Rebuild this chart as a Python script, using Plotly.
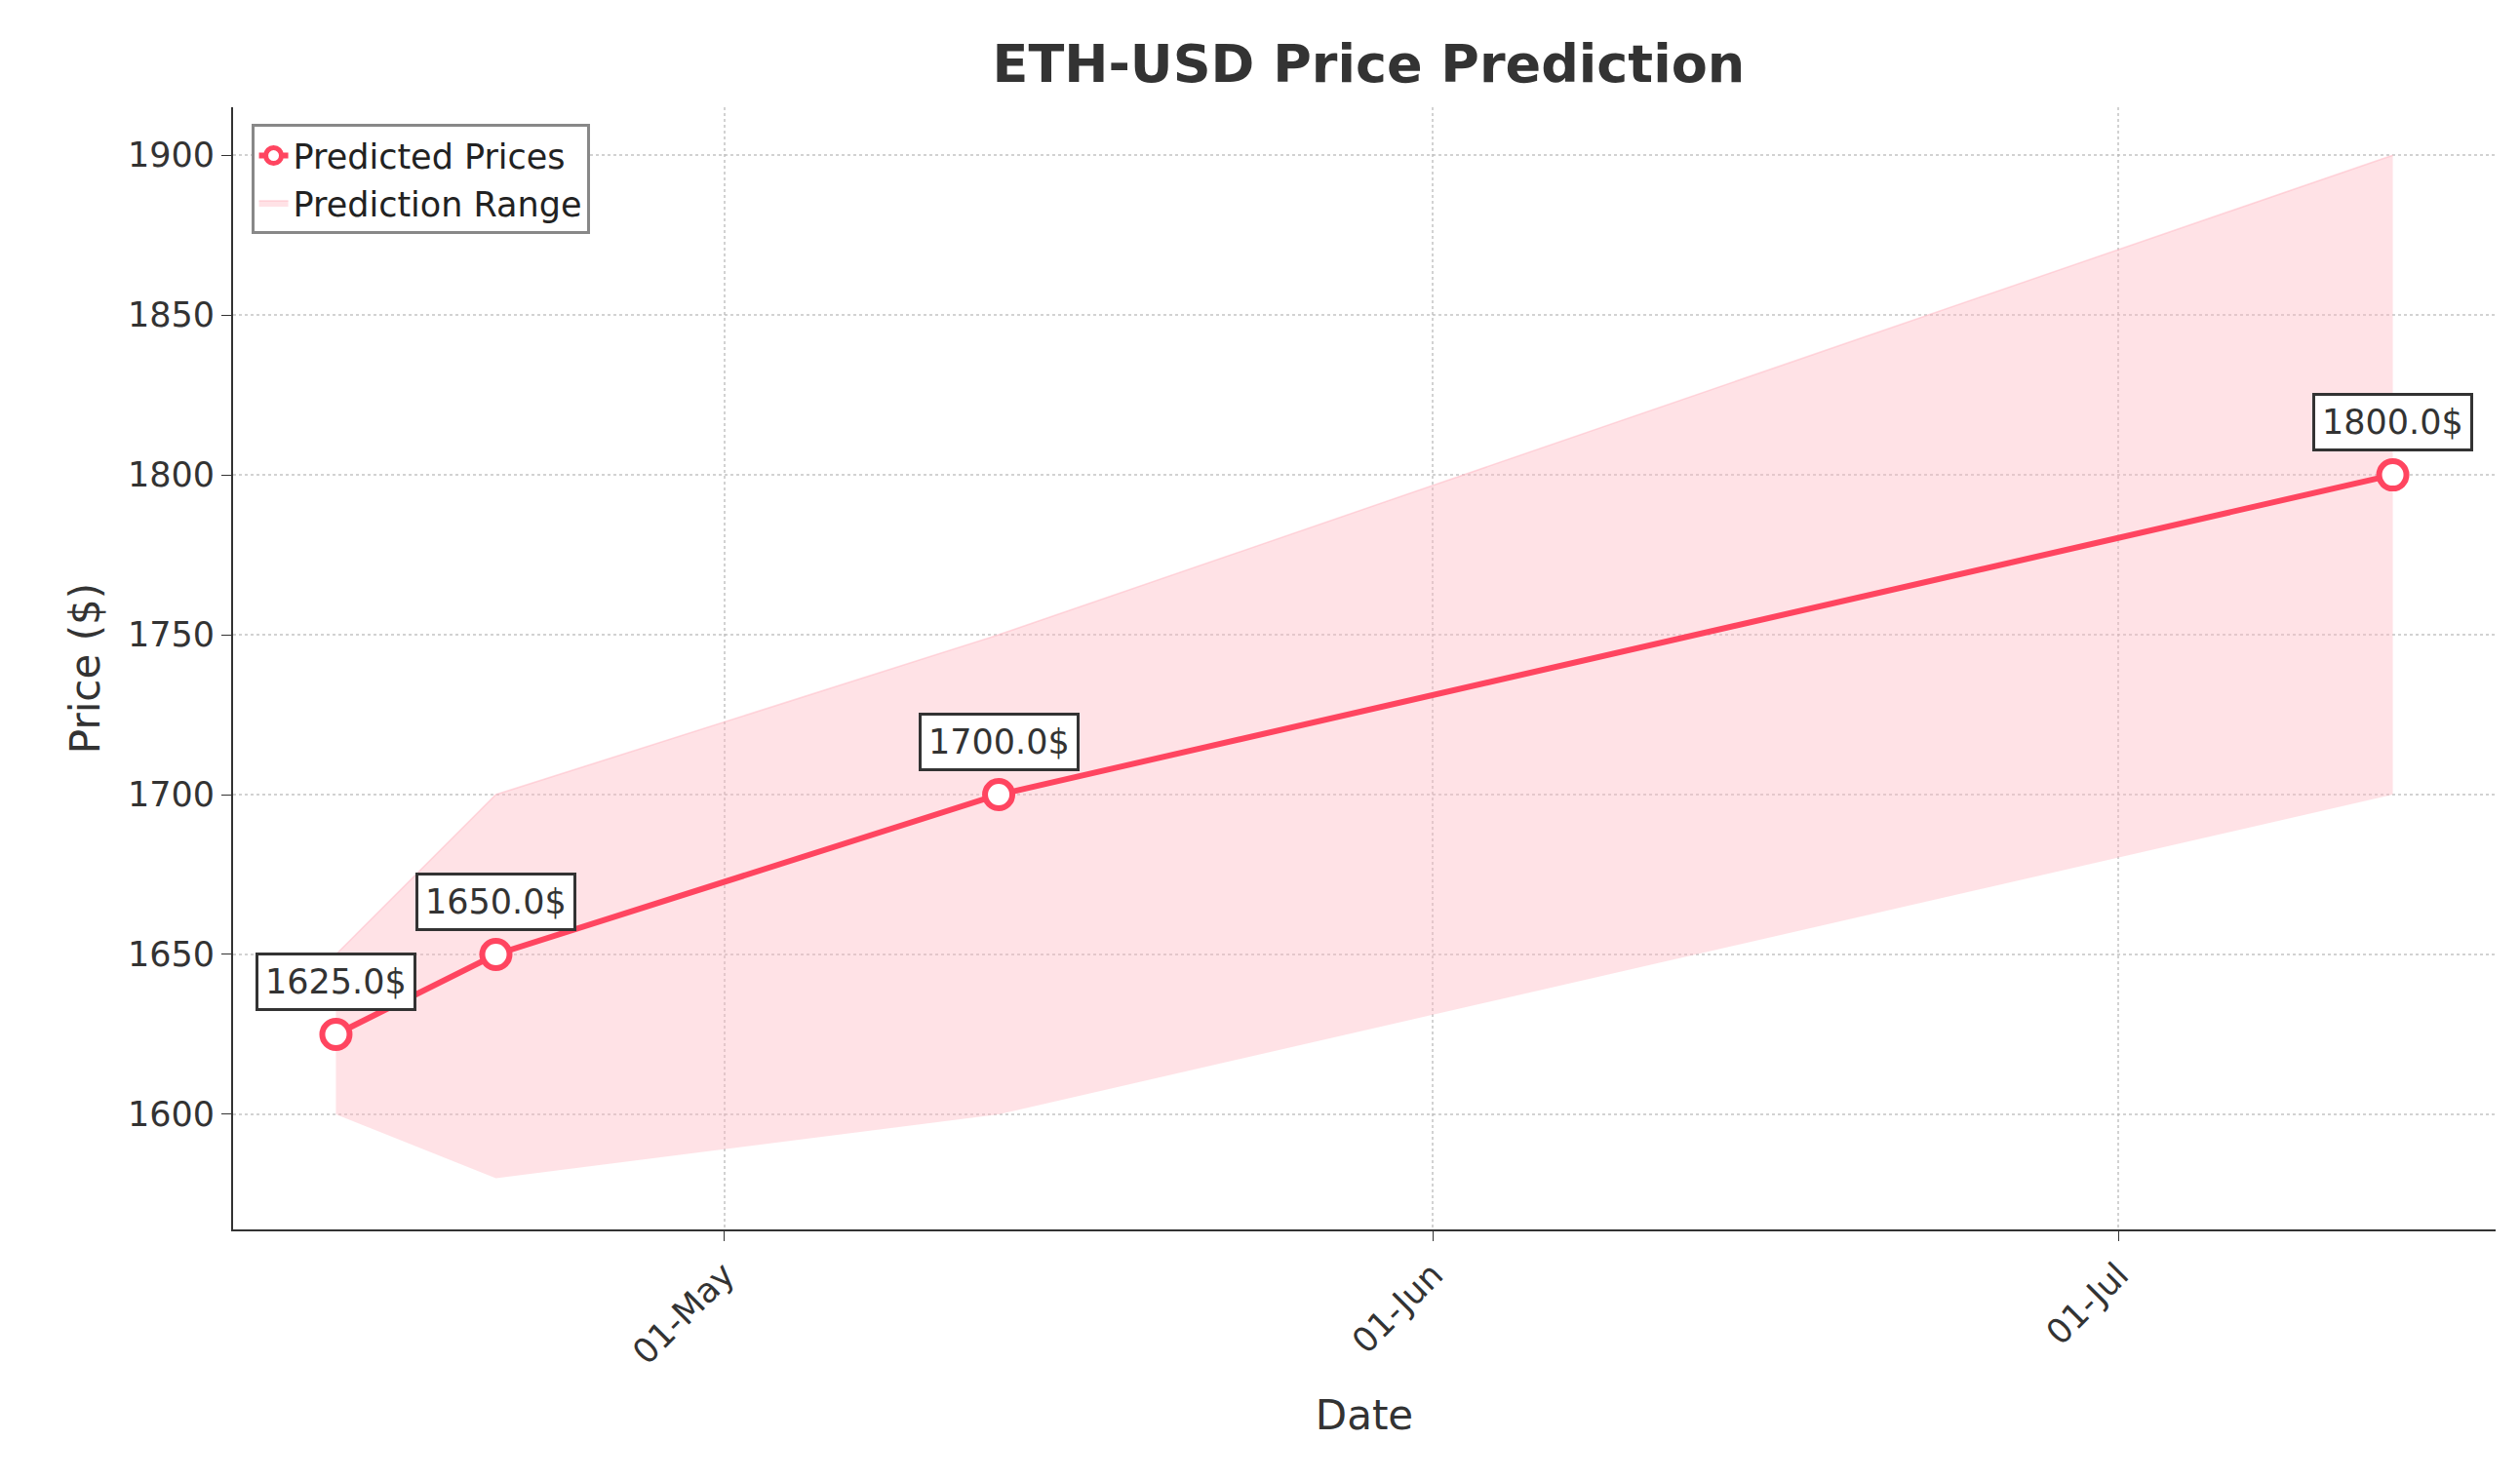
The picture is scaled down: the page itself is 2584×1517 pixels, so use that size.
import plotly.graph_objects as go

dates = ["2023-04-14", "2023-04-21", "2023-05-13", "2023-07-13"]
predicted = [1625.0, 1650.0, 1700.0, 1800.0]
lower = [1600, 1580, 1600, 1700]
upper = [1650, 1700, 1750, 1900]

red = "#FF4560"
fig = go.Figure()
fig.add_trace(go.Scatter(x=dates, y=lower, mode="lines", line=dict(width=0), showlegend=False, hoverinfo="skip"))
fig.add_trace(go.Scatter(x=dates, y=upper, mode="lines", fill="tonexty", fillcolor="rgba(255,182,193,0.4)",
                         line=dict(width=1.5, color="rgba(255,182,193,0.5)"), name="Prediction Range"))
fig.add_trace(go.Scatter(x=dates, y=predicted, mode="lines+markers", name="Predicted Prices",
                         line=dict(color=red, width=6),
                         marker=dict(size=28, color="white", line=dict(color=red, width=6))))
for d, p in zip(dates, predicted):
    fig.add_annotation(x=d, y=p, text=f"{p}$", showarrow=False, yshift=54,
                       font=dict(size=35, color="#333"), bgcolor="white", bordercolor="#333",
                       borderwidth=3, borderpad=7)

axis_common = dict(showline=True, linecolor="#333", linewidth=2, ticks="outside", ticklen=10,
                   tickcolor="#333", tickfont=dict(size=35, color="#333"),
                   showgrid=True, gridcolor="rgba(180,180,180,0.6)", griddash="dot", gridwidth=2,
                   zeroline=False, mirror=False)
fig.update_layout(
    width=2584, height=1517, plot_bgcolor="white", paper_bgcolor="white",
    font=dict(family="DejaVu Sans", color="#333"),
    margin=dict(l=231, r=33, t=102, b=264),
    title=dict(text="<b>ETH-USD Price Prediction</b>", x=0.54, xanchor="center", y=0.975, font=dict(size=54, color="#333")),
    xaxis=dict(axis_common, range=["2023-04-09 12:00", "2023-07-17 12:00"],
               tickvals=["2023-05-01", "2023-06-01", "2023-07-01"], ticktext=["01-May", "01-Jun", "01-Jul"],
               tickangle=-45, title=dict(text="Date", font=dict(size=42, color="#333"), standoff=30)),
    yaxis=dict(axis_common, range=[1564, 1915], dtick=50,
               title=dict(text="Price ($)", font=dict(size=42, color="#333"))),
    legend=dict(x=0.008, y=0.985, xanchor="left", yanchor="top", bgcolor="white",
                bordercolor="#888", borderwidth=3, font=dict(size=35, color="#222"),
                traceorder="reversed"),
)
fig.write_html("out.html")
